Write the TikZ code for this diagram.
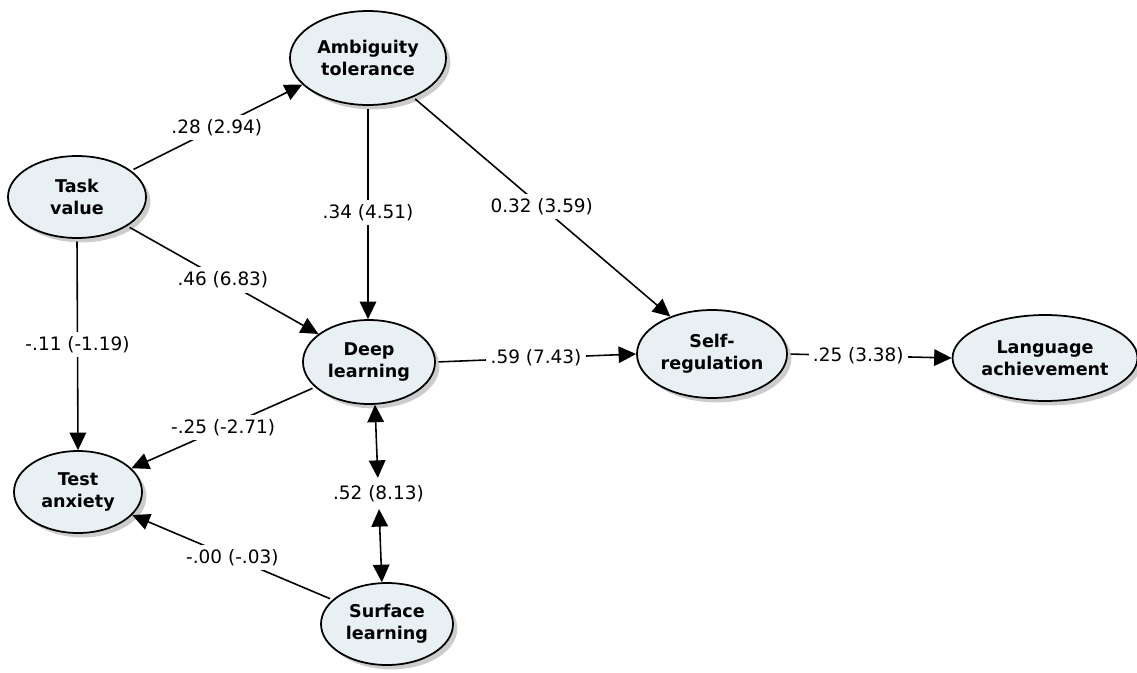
\documentclass[tikz,border=0pt]{standalone}
\usepackage{fontspec}
\setmainfont{DejaVu Sans}
\usepackage{xcolor}
\usepackage{tikz}
\usetikzlibrary{shapes.geometric, arrows.meta, shadows}
\definecolor{latentfill}{HTML}{E9F0F4}
\definecolor{shadowgray}{HTML}{9A9A9A}

\begin{document}
\begin{tikzpicture}[
  font=\fontsize{10.5}{12.5}\selectfont,
  latent/.style={ellipse, draw=black, line width=1pt, fill=latentfill, align=center,
                 inner sep=1pt, font=\bfseries\fontsize{10}{12.5}\selectfont,
                 drop shadow={shadow xshift=2.5pt, shadow yshift=-2.5pt, fill=shadowgray, opacity=0.5}},
  lbl/.style={fill=white, inner sep=2.5pt},
  arr/.style={-{Triangle[length=3.5mm, width=3.3mm]}, line width=0.9pt, shorten <=1.5pt},
  dblarr/.style={{Triangle[length=3.5mm, width=3.3mm]}-{Triangle[length=3.5mm, width=3.3mm]}, line width=0.9pt},
]
\useasboundingbox (0,0) rectangle (22.74,-13.44);

% Latent variables
\node[latent, minimum width=3.12cm, minimum height=1.88cm] (AT) at (7.36,-1.16) {Ambiguity\\tolerance};
\node[latent, minimum width=2.76cm, minimum height=1.64cm] (TV) at (1.54,-3.94) {Task\\value};
\node[latent, minimum width=2.64cm, minimum height=1.68cm] (DL) at (7.38,-7.24) {Deep\\learning};
\node[latent, minimum width=2.92cm, minimum height=1.76cm] (SR) at (14.24,-7.08) {Self-\\regulation};
\node[latent, minimum width=3.56cm, minimum height=1.72cm] (LA) at (20.90,-7.16) {Language\\achievement};
\node[latent, minimum width=2.56cm, minimum height=1.64cm] (TA) at (1.56,-9.84) {Test\\anxiety};
\node[latent, minimum width=2.64cm, minimum height=1.64cm] (SL) at (7.74,-12.48) {Surface\\learning};

% Paths
\draw[arr] (TV.26) -- node[lbl] {.28 (2.94)} (AT.202);
\draw[arr] (AT.south) -- node[lbl] {.34 (4.51)} (AT.south |- DL.north);
\draw[arr] (AT.319) -- node[lbl] {0.32 (3.59)} (SR.138);
\draw[arr] (TV.-30) -- node[lbl] {.46 (6.83)} (DL.151);
\draw[arr] (TV.south) -- node[lbl] {-.11 (-1.19)} (TA.north);
\draw[arr] (DL.east) -- node[lbl] {.59 (7.43)} (SR.west);
\draw[arr] (SR.east) -- node[lbl, pos=0.43] {.25 (3.38)} (LA.west);
\draw[arr] (DL.205) -- node[lbl] {-.25 (-2.71)} (TA.24);
\draw[arr] (SL.156) -- node[lbl] {-.00 (-.03)} (TA.-23);

% Correlation
\path (DL.-82) -- node[inner sep=4pt] (r52) {.52 (8.13)} (SL.97);
\draw[dblarr] (DL.-82) -- (r52);
\draw[dblarr] (r52) -- (SL.97);

\end{tikzpicture}
\end{document}
